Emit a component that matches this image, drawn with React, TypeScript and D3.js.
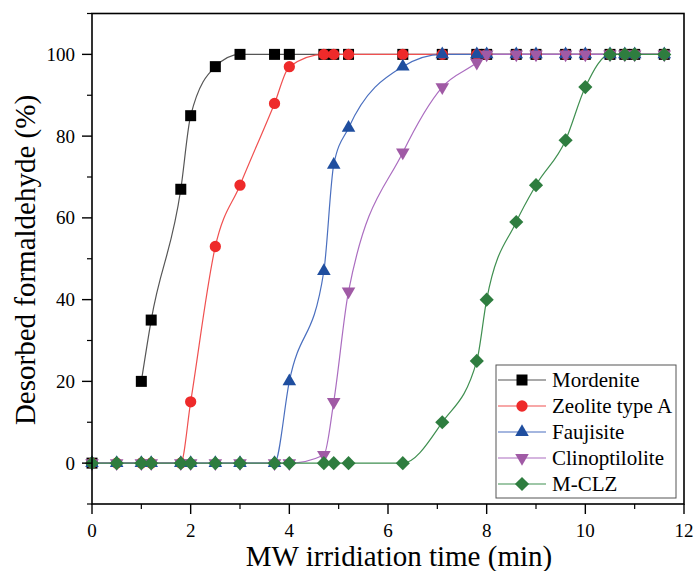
import React from "react";
import * as d3 from "d3";

// irradiation times (min) shared by every series
const times = [0, 0.5, 1, 1.2, 1.8, 2, 2.5, 3, 3.7, 4, 4.7, 4.9, 5.2, 6.3, 7.1, 7.8, 8, 8.6, 9, 9.6, 10, 10.5, 10.8, 11, 11.6];

const mordenite = [0, null, 20, 35, 67, 85, 97, 100, 100, 100, 100, 100, 100, 100, 100, 100, 100, 100, 100, 100, 100, 100, 100, 100, 100];
const zeoliteA = [0, 0, 0, 0, 0, 15, 53, 68, 88, 97, 100, 100, 100, 100, 100, 100, 100, 100, 100, 100, 100, 100, 100, 100, 100];
const faujisite = [0, 0, 0, 0, 0, 0, 0, 0, 0, 20, 47, 73, 82, 97, 100, 100, 100, 100, 100, 100, 100, 100, 100, 100, 100];
const clinoptilolite = [0, 0, 0, 0, 0, 0, 0, 0, 0, 0, 2, 15, 42, 76, 92, 98, 100, 100, 100, 100, 100, 100, 100, 100, 100];
const mclz = [0, 0, 0, 0, 0, 0, 0, 0, 0, 0, 0, 0, 0, 0, 10, 25, 40, 59, 68, 79, 92, 100, 100, 100, 100];

const seriesNames = ["Mordenite", "Zeolite type A", "Faujisite", "Clinoptilolite", "M-CLZ"];
const xTicks = [0, 2, 4, 6, 8, 10, 12];
const yTicks = [0, 20, 40, 60, 80, 100];

const W = 694;
const H = 571;
const m = { left: 92, right: 10, top: 13.5, bottom: 67 };

const series = [
  { name: seriesNames[0], values: mordenite, fill: "#000000", line: "#555555", shape: "square" },
  { name: seriesNames[1], values: zeoliteA, fill: "#ee2a2a", line: "#f05050", shape: "circle" },
  { name: seriesNames[2], values: faujisite, fill: "#1f4e9f", line: "#4a6fbf", shape: "up" },
  { name: seriesNames[3], values: clinoptilolite, fill: "#a05aa5", line: "#ab6dc0", shape: "down" },
  { name: seriesNames[4], values: mclz, fill: "#2e7d3f", line: "#3f8f50", shape: "diamond" },
];

function symbolPath(shape: string) {
  if (shape === "square") return d3.symbol(d3.symbolSquare, 121)();
  if (shape === "circle") return d3.symbol(d3.symbolCircle, 100)();
  if (shape === "diamond") return d3.symbol(d3.symbolSquare, 100)();
  return d3.symbol(d3.symbolTriangle, 80)();
}

function Marker({ shape, x, y, fill }: { shape: string; x: number; y: number; fill: string }) {
  let rot = 0;
  if (shape === "diamond") rot = 45;
  if (shape === "down") rot = 180;
  return (
    <path d={symbolPath(shape) || ""} transform={`translate(${x},${y}) rotate(${rot})`} fill={fill} />
  );
}

export default function App() {
  const x = d3.scaleLinear().domain([0, 12]).range([m.left, W - m.right]);
  const y = d3.scaleLinear().domain([-10, 110]).range([H - m.bottom, m.top]);

  const line = d3
    .line<number | null>()
    .defined((d) => d !== null)
    .x((d, i) => x(times[i]))
    .y((d) => y(d as number))
    .curve(d3.curveMonotoneX);

  const xMinor = d3.range(1, 12, 2);
  const yMinor = d3.range(-10, 111, 20);
  const font = '"Liberation Serif", "Times New Roman", serif';

  const legX = 496;
  const legY = 365;
  const rowH = 26;

  return (
    <svg width={W} height={H} style={{ position: "absolute", left: 0, top: 0 }}>
      <g style={{ fontFamily: font }}>
        <rect width={W} height={H} fill="#fff" />
        {/* curves */}
        {series.map((s) => (
          <path key={s.name + "l"} d={line(s.values) || ""} fill="none" stroke={s.line} strokeWidth={1.2} />
        ))}
        {/* markers */}
        {series.map((s) => (
          <g key={s.name + "m"}>
            {s.values.map((v, i) =>
              v === null ? null : <Marker key={i} shape={s.shape} x={x(times[i])} y={y(v)} fill={s.fill} />
            )}
          </g>
        ))}
        {/* frame */}
        <rect
          x={x(0)}
          y={y(110)}
          width={x(12) - x(0)}
          height={y(-10) - y(110)}
          fill="none"
          stroke="#000"
          strokeWidth={1.6}
        />
        {/* x ticks */}
        {xTicks.map((t) => (
          <g key={"xt" + t}>
            <line x1={x(t)} x2={x(t)} y1={y(-10)} y2={y(-10) + 10} stroke="#000" strokeWidth={1.4} />
            <text x={x(t)} y={y(-10) + 33} textAnchor="middle" fontSize={19}>
              {t}
            </text>
          </g>
        ))}
        {xMinor.map((t) => (
          <line key={"xm" + t} x1={x(t)} x2={x(t)} y1={y(-10)} y2={y(-10) + 5} stroke="#000" strokeWidth={1.2} />
        ))}
        {/* y ticks */}
        {yTicks.map((t) => (
          <g key={"yt" + t}>
            <line x1={x(0) - 10} x2={x(0)} y1={y(t)} y2={y(t)} stroke="#000" strokeWidth={1.4} />
            <text x={x(0) - 17} y={y(t) + 6.5} textAnchor="end" fontSize={19}>
              {t}
            </text>
          </g>
        ))}
        {yMinor.map((t) => (
          <line key={"ym" + t} x1={x(0) - 5} x2={x(0)} y1={y(t)} y2={y(t)} stroke="#000" strokeWidth={1.2} />
        ))}
        {/* axis titles */}
        <text x={399} y={566} textAnchor="middle" fontSize={29}>
          MW irridiation time (min)
        </text>
        <text transform={`translate(35,260) rotate(-90)`} textAnchor="middle" fontSize={29}>
          Desorbed formaldehyde (%)
        </text>
        {/* legend */}
        <rect x={legX} y={legY} width={180} height={133} fill="#fff" stroke="#555" strokeWidth={1} />
        {series.map((s, i) => {
          const cy = legY + 15 + i * rowH;
          return (
            <g key={s.name + "lg"}>
              <line x1={legX + 2} x2={legX + 50} y1={cy} y2={cy} stroke={s.line} strokeWidth={1.2} />
              <Marker shape={s.shape} x={legX + 26} y={cy} fill={s.fill} />
              <text x={legX + 56} y={cy + 7} fontSize={21}>
                {s.name}
              </text>
            </g>
          );
        })}
      </g>
    </svg>
  );
}
